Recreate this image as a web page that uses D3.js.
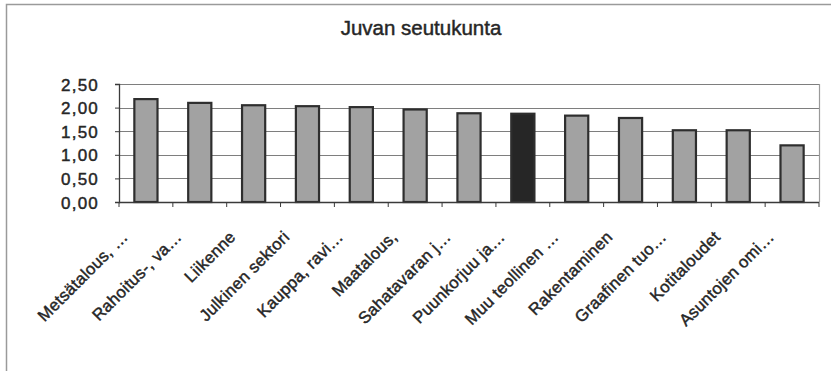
<!DOCTYPE html>
<html>
<head>
<meta charset="utf-8">
<script src="https://cdn.jsdelivr.net/npm/d3@7"></script>
<style>
  html, body { margin: 0; padding: 0; background: #fff; }
  svg { display: block; }
  text { font-family: "Liberation Sans", Arial, sans-serif; fill: #262626; stroke: #262626; stroke-width: 0.45px; }
</style>
</head>
<body>
<svg id="chart" width="831" height="371"></svg>
<script>
// Chart content
const chartTitle = "Juvan seutukunta";
const categories = [
  "Metsätalous, …",
  "Rahoitus-, va…",
  "Liikenne",
  "Julkinen sektori",
  "Kauppa, ravi…",
  "Maatalous,",
  "Sahatavaran j…",
  "Puunkorjuu ja…",
  "Muu teollinen …",
  "Rakentaminen",
  "Graafinen tuo…",
  "Kotitaloudet",
  "Asuntojen omi…"
];
const values = [2.18, 2.10, 2.05, 2.03, 2.01, 1.96, 1.88, 1.87, 1.83, 1.78, 1.52, 1.52, 1.20];
const highlighted = ["Puunkorjuu ja…"];
const yTicks = [0, 0.5, 1.0, 1.5, 2.0, 2.5];

const svg = d3.select("#chart");
const plot = { left: 119, right: 819, top: 84, bottom: 202 };

// Finnish number format: comma as decimal separator
const fi = d3.formatLocale({ decimal: ",", thousands: " ", grouping: [3], currency: ["", " €"] });
const fmt = fi.format(".2f");

const x = d3.scaleBand()
  .domain(categories)
  .range([plot.left, plot.right])
  .paddingInner(0.57)
  .paddingOuter(0.285);

const y = d3.scaleLinear()
  .domain([0, d3.max(yTicks)])
  .range([plot.bottom, plot.top]);

// Outer chart-area frame
svg.append("rect")
  .attr("x", 6.5).attr("y", 4.5)
  .attr("width", 900).attr("height", 400)
  .attr("fill", "none")
  .attr("stroke", "#9a9a9a")
  .attr("stroke-width", 1.5);

// Title
svg.append("text")
  .attr("x", 421).attr("y", 35)
  .attr("text-anchor", "middle")
  .style("font-size", "20.5px")
  .text(chartTitle);

// Gridlines
svg.append("g")
  .selectAll("line")
  .data(yTicks.filter(d => d > 0))
  .join("line")
  .attr("x1", plot.left).attr("x2", plot.right)
  .attr("y1", d => Math.round(y(d)) + 0.5)
  .attr("y2", d => Math.round(y(d)) + 0.5)
  .attr("stroke", "#7e7e7e")
  .attr("stroke-width", 1.2);

// Right border of the plot area
svg.append("line")
  .attr("x1", plot.right + 0.5).attr("x2", plot.right + 0.5)
  .attr("y1", plot.top).attr("y2", plot.bottom)
  .attr("stroke", "#9a9a9a")
  .attr("stroke-width", 1.2);

// Bars
svg.append("g")
  .selectAll("rect")
  .data(categories.map((c, i) => ({ c, v: values[i] })))
  .join("rect")
  .attr("x", d => x(d.c))
  .attr("width", x.bandwidth())
  .attr("y", d => y(d.v))
  .attr("height", d => y(0) - y(d.v))
  .attr("fill", d => highlighted.includes(d.c) ? "#262626" : "#a2a2a2")
  .attr("stroke", "#2e2e2e")
  .attr("stroke-width", 2.2);

// Y axis
const yAxis = svg.append("g")
  .attr("transform", `translate(${plot.left},0)`)
  .call(d3.axisLeft(y).tickValues(yTicks).tickFormat(fmt).tickSize(4).tickPadding(16));
yAxis.select(".domain").attr("stroke", "#3a3a3a").attr("stroke-width", 1.3);
yAxis.selectAll(".tick line").attr("stroke", "#3a3a3a");
yAxis.selectAll(".tick text")
  .style("font-size", "17px")
  .style("letter-spacing", "1.2px")
  .attr("fill", "#262626")
  .attr("dy", "0.36em");

// X axis baseline
svg.append("line")
  .attr("x1", plot.left).attr("x2", plot.right)
  .attr("y1", plot.bottom + 0.5).attr("y2", plot.bottom + 0.5)
  .attr("stroke", "#3a3a3a")
  .attr("stroke-width", 1.3);

// Category dividers (tick marks between categories)
const step = x.step();
const dividers = categories.map(c => x(c) - step * x.paddingInner() / 2)
  .concat([x(categories[categories.length - 1]) + x.bandwidth() + step * x.paddingInner() / 2]);
svg.append("g")
  .selectAll("line")
  .data(dividers)
  .join("line")
  .attr("x1", d => d).attr("x2", d => d)
  .attr("y1", plot.bottom).attr("y2", plot.bottom + 5)
  .attr("stroke", "#3a3a3a")
  .attr("stroke-width", 1);

// Rotated category labels
svg.append("g")
  .selectAll("text")
  .data(categories)
  .join("text")
  .attr("text-anchor", "end")
  .attr("transform", c => `translate(${x(c) + x.bandwidth() / 2 - 17},${plot.bottom + 36}) rotate(-45)`)
  .style("font-size", "16.6px")
  .style("letter-spacing", "0.3px")
  .text(c => c);
</script>
</body>
</html>
